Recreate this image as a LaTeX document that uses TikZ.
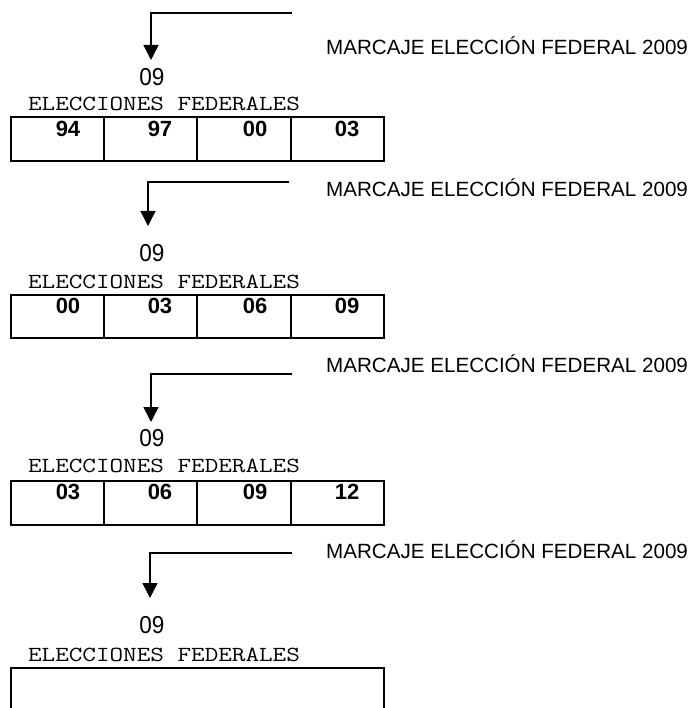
\documentclass[tikz,border=0pt]{standalone}
\usepackage{fontspec}
\setmainfont{Liberation Sans}
\usetikzlibrary{arrows.meta}

\begin{document}
\begin{tikzpicture}[x=1pt, y=-1pt,
	marca/.style={anchor=west, inner sep=0pt, font=\fontsize{20.6}{22}\selectfont},
	year/.style={inner sep=0pt, font=\fontsize{24.5}{26}\selectfont},
	elec/.style={inner sep=0pt, font=\ttfamily\fontsize{21.5}{22}\selectfont},
	cell/.style={inner sep=0pt, font=\bfseries\fontsize{22}{24}\selectfont},
	feed/.style={line width=1.5pt, -{Triangle[length=15pt, width=15pt]}},
	box/.style={line width=2.5pt}, sep/.style={line width=2pt}]
	\useasboundingbox (0,0) rectangle (693,708);

	% primer bloque
	\coordinate (s1) at (292,13); \coordinate (t1) at (151,60);
	\draw [feed] (s1) -| (t1);
	\node [marca] (marca1) at (326,46) {MARCAJE ELECCIÓN FEDERAL 2009};
	\node [year] (anio1) at (152,77) {\scalebox{0.92}[1]{09}};
	\node [elec] (elec1) at (164,104) {\scalebox{1.227}[1]{ELECCIONES FEDERALES}};
	\draw [box] (11,117) rectangle (384,161);
	\draw [sep] (104,117) -- (104,161) (197,117) -- (197,161) (291,117) -- (291,161);
	\node [cell] (c11) at (68,129) {94};
	\node [cell] (c12) at (160,129) {97};
	\node [cell] (c13) at (255,129) {00};
	\node [cell] (c14) at (347,129) {03};

	% segundo bloque
	\coordinate (s2) at (289,182); \coordinate (t2) at (148,226);
	\draw [feed] (s2) -| (t2);
	\node [marca] (marca2) at (326,188) {MARCAJE ELECCIÓN FEDERAL 2009};
	\node [year] (anio2) at (152,253) {\scalebox{0.92}[1]{09}};
	\node [elec] (elec2) at (164,282) {\scalebox{1.227}[1]{ELECCIONES FEDERALES}};
	\draw [box] (11,295) rectangle (384,338);
	\draw [sep] (104,295) -- (104,338) (197,295) -- (197,338) (291,295) -- (291,338);
	\node [cell] (c21) at (68,306) {00};
	\node [cell] (c22) at (160,306) {03};
	\node [cell] (c23) at (255,306) {06};
	\node [cell] (c24) at (347,306) {09};

	% tercer bloque
	\coordinate (s3) at (292,374); \coordinate (t3) at (151,422);
	\draw [feed] (s3) -| (t3);
	\node [marca] (marca3) at (326,364) {MARCAJE ELECCIÓN FEDERAL 2009};
	\node [year] (anio3) at (152,438) {\scalebox{0.92}[1]{09}};
	\node [elec] (elec3) at (164,466) {\scalebox{1.227}[1]{ELECCIONES FEDERALES}};
	\draw [box] (11,481) rectangle (384,525);
	\draw [sep] (104,481) -- (104,525) (197,481) -- (197,525) (291,481) -- (291,525);
	\node [cell] (c31) at (68,492) {03};
	\node [cell] (c32) at (160,492) {06};
	\node [cell] (c33) at (255,492) {09};
	\node [cell] (c34) at (347,492) {12};

	% cuarto bloque
	\coordinate (s4) at (292,553); \coordinate (t4) at (150,598);
	\draw [feed] (s4) -| (t4);
	\node [marca] (marca4) at (326,550) {MARCAJE ELECCIÓN FEDERAL 2009};
	\node [year] (anio4) at (152,625) {\scalebox{0.92}[1]{09}};
	\node [elec] (elec4) at (164,655) {\scalebox{1.227}[1]{ELECCIONES FEDERALES}};
	\draw [box] (11,710) -- (11,668) -- (384,668) -- (384,710);
\end{tikzpicture}
\end{document}
